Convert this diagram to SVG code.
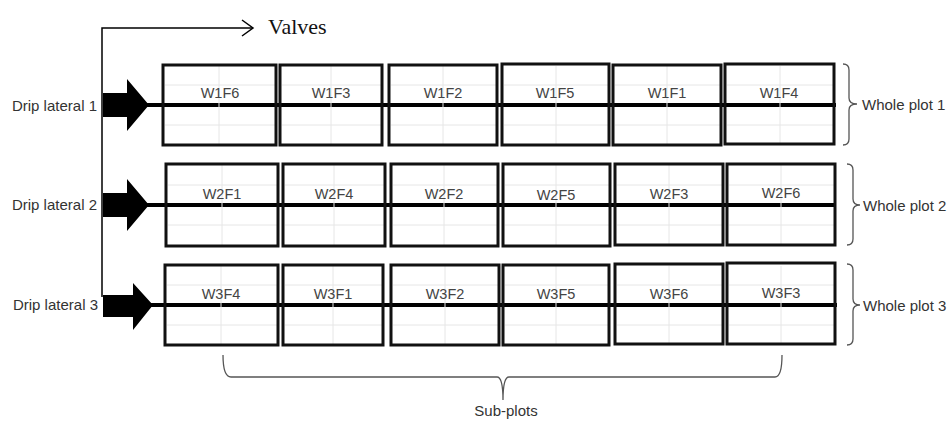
<svg xmlns="http://www.w3.org/2000/svg" width="952" height="421" viewBox="0 0 952 421">
<style>
.box{fill:none;stroke:#111;stroke-width:3}
.grid{stroke:#e6e6e6;stroke-width:1}
.lbl{font-family:"Liberation Sans",Arial,sans-serif;font-size:14.5px;fill:#444;text-anchor:middle}
.side{font-family:"Liberation Sans",Arial,sans-serif;font-size:15px;fill:#333}
.pipe{stroke:#000;stroke-width:4;fill:none}
.brace{fill:none;stroke:#555;stroke-width:1.3}
.arrow{fill:#000}
</style>
<rect width="952" height="421" fill="#fff"/>
<g id="connectors">
  <path d="M102,297 L102,28 L252,28" fill="none" stroke="#000" stroke-width="1.5"/>
  <path d="M242,20 L253,28 L242,36" fill="none" stroke="#000" stroke-width="1.5"/>
  <line class="pipe" x1="145" y1="105" x2="836" y2="105"/>
  <line class="pipe" x1="145" y1="205" x2="836" y2="205"/>
  <line class="pipe" x1="148" y1="305" x2="837" y2="305"/>
  <polygon class="arrow" points="103,93 127,93 127,79 149,105 127,131 127,117 103,117"/>
  <polygon class="arrow" points="103,193 127,193 127,179 149,205 127,231 127,217 103,217"/>
  <polygon class="arrow" points="103,295 133,295 133,283 153,305 133,330 133,317 103,317"/>
</g>
<g id="valves"><text x="268" y="34" font-family="Liberation Serif,Times New Roman,serif" font-size="22" fill="#111">Valves</text></g>
<g id="drip1"><text class="side" x="97" y="111" text-anchor="end">Drip lateral 1</text></g>
<g id="drip2"><text class="side" x="97" y="210" text-anchor="end">Drip lateral 2</text></g>
<g id="drip3"><text class="side" x="98" y="310" text-anchor="end">Drip lateral 3</text></g>
<g id="grid">
  <path class="grid" d="M165,85H275M165,125H275M219,66V144M282,85H381M282,125H381M331,66V144M391,85H496M391,125H496M443,66V144M504,85H608M504,125H608M556,66V144M615,85H720M615,125H720M667,66V144M727,85H833M727,125H833M780,66V144"/>
  <path class="grid" d="M168,185H277M168,225H277M222,165V245M285,185H384M285,225H384M334,165V245M393,185H497M393,225H497M444,165V245M505,185H609M505,225H609M556,165V245M617,185H722M617,225H722M669,165V245M729,185H834M729,225H834M781,165V245"/>
  <path class="grid" d="M167,285H277M167,325H277M221,266V344M285,285H382M285,325H382M333,266V344M393,285H498M393,325H498M445,266V344M505,285H608M505,325H608M556,266V344M617,285H722M617,325H722M669,266V344M729,285H834M729,325H834M781,266V344"/>
</g>
<g id="W1F6"><rect class="box" x="163" y="65" width="113" height="80"/><text class="lbl" x="220" y="98">W1F6</text></g>
<g id="W1F3"><rect class="box" x="280" y="65" width="102" height="80"/><text class="lbl" x="331" y="98">W1F3</text></g>
<g id="W1F2"><rect class="box" x="389" y="65" width="108" height="80"/><text class="lbl" x="443" y="98">W1F2</text></g>
<g id="W1F5"><rect class="box" x="502" y="64" width="107" height="81"/><text class="lbl" x="555" y="98">W1F5</text></g>
<g id="W1F1"><rect class="box" x="613" y="65" width="108" height="80"/><text class="lbl" x="667" y="98">W1F1</text></g>
<g id="W1F4"><rect class="box" x="725" y="64" width="109" height="80"/><text class="lbl" x="779" y="98">W1F4</text></g>
<g id="W2F1"><rect class="box" x="166" y="164" width="112" height="82"/><text class="lbl" x="222" y="199">W2F1</text></g>
<g id="W2F4"><rect class="box" x="283" y="164" width="102" height="82"/><text class="lbl" x="334" y="199">W2F4</text></g>
<g id="W2F2"><rect class="box" x="391" y="164" width="107" height="82"/><text class="lbl" x="444" y="199">W2F2</text></g>
<g id="W2F5"><rect class="box" x="503" y="164" width="107" height="82"/><text class="lbl" x="556" y="200">W2F5</text></g>
<g id="W2F3"><rect class="box" x="615" y="164" width="108" height="81"/><text class="lbl" x="669" y="199">W2F3</text></g>
<g id="W2F6"><rect class="box" x="727" y="164" width="108" height="81"/><text class="lbl" x="781" y="198">W2F6</text></g>
<g id="W3F4"><rect class="box" x="165" y="265" width="113" height="80"/><text class="lbl" x="221" y="299">W3F4</text></g>
<g id="W3F1"><rect class="box" x="283" y="265" width="100" height="80"/><text class="lbl" x="333" y="299">W3F1</text></g>
<g id="W3F2"><rect class="box" x="391" y="265" width="108" height="80"/><text class="lbl" x="445" y="299">W3F2</text></g>
<g id="W3F5"><rect class="box" x="503" y="265" width="106" height="80"/><text class="lbl" x="556" y="299">W3F5</text></g>
<g id="W3F6"><rect class="box" x="615" y="264" width="108" height="80"/><text class="lbl" x="669" y="299">W3F6</text></g>
<g id="W3F3"><rect class="box" x="727" y="263" width="108" height="81"/><text class="lbl" x="781" y="298">W3F3</text></g>
<g id="wp1"><path class="brace" d="M843,64 Q849,64 849,70 L849,98 Q849,104 857,104 Q849,104 849,110 L849,139 Q849,145 843,145"/><text class="side" x="862" y="110">Whole plot 1</text></g>
<g id="wp2"><path class="brace" d="M847,164 Q853,164 853,170 L853,199 Q853,205 860,205 Q853,205 853,211 L853,239 Q853,245 847,245"/><text class="side" x="863" y="211">Whole plot 2</text></g>
<g id="wp3"><path class="brace" d="M847,264 Q853,264 853,270 L853,299 Q853,305 860,305 Q853,305 853,311 L853,339 Q853,345 847,345"/><text class="side" x="863" y="311">Whole plot 3</text></g>
<g id="subplots"><path class="brace" d="M223,355 Q223,377 231,377 L497,377 Q503,377 503,400 Q503,377 509,377 L775,377 Q782,377 782,355"/><text class="side" x="506" y="416" text-anchor="middle">Sub-plots</text></g>
</svg>
